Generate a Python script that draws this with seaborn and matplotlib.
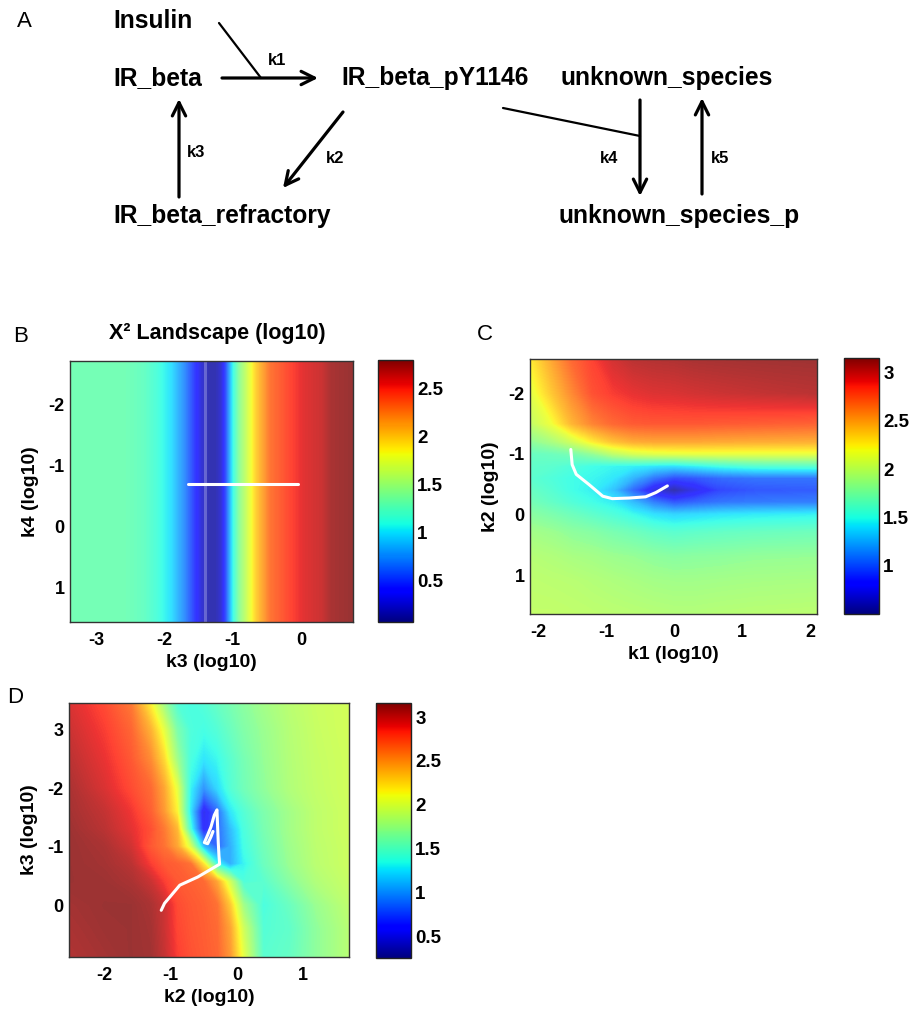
import numpy as np
import matplotlib
matplotlib.use("Agg")
import matplotlib.pyplot as plt
from matplotlib.colors import ListedColormap, Normalize
from matplotlib.cm import ScalarMappable
import seaborn as sns

# ---------------- data ----------------
# Panel B: chi2 depends only on k3
b_k3 = [-3.40, -2.60, -2.30, -2.10, -1.90, -1.70, -1.55, -1.45, -1.35, -1.25, -1.17,
        -1.10, -1.00, -0.90, -0.75, -0.66, -0.45, -0.21, 0.04, 0.30, 0.45, 0.76]
b_chi2 = [1.31, 1.31, 1.25, 1.15, 1.00, 0.72, 0.45, 0.25, 0.15, 0.15, 0.25,
          0.54, 1.08, 1.43, 1.76, 1.98, 2.31, 2.45, 2.58, 2.65, 2.75, 2.80]
b_k4_rows = [-2.72, 1.56]
b_traj_k3 = [-1.66, -0.05]
b_traj_k4 = [-0.70, -0.70]

# Panel C: rows = k2, columns = k1
c_k1 = [-2.12, -1.8, -1.5, -1.2, -0.9, -0.6, -0.3, 0.0, 0.3, 0.7, 1.2, 2.1]
c_k2 = [-2.56, -2.0, -1.5, -1.2, -1.0, -0.8, -0.6, -0.4, -0.2, 0.0, 0.3, 0.7, 1.1, 1.64]
c_chi2 = [
    [2.25, 2.50, 2.72, 2.85, 2.98, 3.05, 3.07, 3.08, 3.10, 3.11, 3.12, 3.13],
    [2.12, 2.38, 2.60, 2.80, 2.87, 2.92, 2.95, 2.96, 2.98, 3.00, 3.02, 3.05],
    [2.00, 2.18, 2.45, 2.62, 2.72, 2.77, 2.78, 2.78, 2.78, 2.77, 2.76, 2.74],
    [1.80, 1.90, 2.05, 2.25, 2.40, 2.48, 2.50, 2.50, 2.50, 2.49, 2.48, 2.47],
    [1.65, 1.67, 1.72, 1.82, 1.98, 2.08, 2.12, 2.14, 2.15, 2.15, 2.15, 2.15],
    [1.62, 1.60, 1.55, 1.50, 1.47, 1.45, 1.42, 1.40, 1.45, 1.52, 1.58, 1.60],
    [1.60, 1.55, 1.50, 1.47, 1.42, 1.25, 1.05, 0.92, 0.95, 1.02, 1.05, 1.05],
    [1.65, 1.58, 1.50, 1.45, 1.30, 1.00, 0.70, 0.55, 0.72, 0.90, 0.95, 0.97],
    [1.70, 1.63, 1.56, 1.50, 1.44, 1.28, 1.08, 0.95, 1.00, 1.05, 1.07, 1.08],
    [1.78, 1.73, 1.67, 1.61, 1.55, 1.48, 1.40, 1.36, 1.38, 1.41, 1.43, 1.45],
    [1.88, 1.85, 1.80, 1.77, 1.72, 1.68, 1.63, 1.60, 1.62, 1.64, 1.66, 1.68],
    [1.95, 1.93, 1.90, 1.88, 1.85, 1.83, 1.80, 1.78, 1.79, 1.80, 1.82, 1.83],
    [1.98, 1.97, 1.96, 1.94, 1.92, 1.90, 1.88, 1.87, 1.87, 1.88, 1.89, 1.90],
    [2.00, 2.00, 1.99, 1.98, 1.97, 1.96, 1.95, 1.94, 1.94, 1.95, 1.96, 1.97],
]
c_traj_k1 = [-1.52, -1.50, -1.44, -1.25, -1.05, -0.91, -0.66, -0.42, -0.27, -0.10]
c_traj_k2 = [-1.07, -0.82, -0.66, -0.49, -0.30, -0.26, -0.27, -0.29, -0.36, -0.47]

# Panel D: rows = k3, columns = k2
d_k2 = [-2.53, -2.0, -1.6, -1.3, -1.1, -0.9, -0.7, -0.5, -0.3, -0.1, 0.1, 0.4, 0.8, 1.2, 1.69]
d_k3 = [-3.46, -3.0, -2.5, -2.0, -1.6, -1.3, -1.0, -0.7, -0.4, 0.0, 0.4, 0.89]
d_chi2 = [
    [2.95, 2.80, 2.62, 2.15, 1.75, 1.42, 1.38, 1.42, 1.50, 1.58, 1.66, 1.76, 1.86, 1.93, 1.97],
    [3.00, 2.85, 2.70, 2.40, 2.05, 1.60, 1.40, 1.36, 1.42, 1.52, 1.62, 1.72, 1.84, 1.92, 1.97],
    [3.05, 2.90, 2.75, 2.55, 2.25, 1.75, 1.38, 1.25, 1.32, 1.45, 1.57, 1.70, 1.83, 1.91, 1.96],
    [3.10, 2.95, 2.80, 2.68, 2.45, 2.05, 1.30, 0.95, 1.20, 1.42, 1.55, 1.68, 1.82, 1.90, 1.96],
    [3.12, 3.02, 2.88, 2.72, 2.50, 2.15, 1.25, 0.50, 0.80, 1.25, 1.42, 1.60, 1.76, 1.88, 1.95],
    [3.14, 3.05, 2.92, 2.78, 2.62, 2.38, 1.40, 0.55, 0.80, 1.10, 1.38, 1.58, 1.76, 1.88, 1.95],
    [3.15, 3.10, 2.98, 2.75, 2.65, 2.45, 2.00, 1.10, 0.80, 1.05, 1.35, 1.55, 1.74, 1.87, 1.94],
    [3.15, 3.12, 3.05, 2.85, 2.75, 2.72, 2.65, 2.20, 1.35, 1.05, 1.30, 1.52, 1.72, 1.86, 1.94],
    [3.15, 3.14, 3.10, 3.00, 2.85, 2.75, 2.72, 2.68, 2.45, 1.95, 1.40, 1.45, 1.65, 1.82, 1.92],
    [3.12, 3.15, 3.15, 3.10, 3.00, 2.80, 2.75, 2.72, 2.65, 2.30, 1.75, 1.38, 1.52, 1.72, 1.88],
    [3.10, 3.14, 3.15, 3.12, 3.00, 2.82, 2.76, 2.73, 2.68, 2.45, 1.95, 1.42, 1.48, 1.68, 1.85],
    [3.08, 3.12, 3.15, 3.13, 3.02, 2.85, 2.78, 2.74, 2.70, 2.50, 2.05, 1.45, 1.50, 1.68, 1.85],
]
d_traj_k2 = [-1.14, -1.09, -0.86, -0.59, -0.26, -0.27, -0.28, -0.29, -0.30, -0.34,
             -0.39, -0.44, -0.49, -0.44, -0.39, -0.36]
d_traj_k3 = [0.09, -0.03, -0.34, -0.48, -0.70, -0.85, -1.06, -1.34, -1.63, -1.54,
             -1.34, -1.20, -1.07, -1.05, -1.17, -1.26]

b_xticks = [-3, -2, -1, 0]
b_yticks = [-2, -1, 0, 1]
b_cticks = [0.5, 1, 1.5, 2, 2.5]
c_xticks = [-2, -1, 0, 1, 2]
c_yticks = [-2, -1, 0, 1]
c_cticks = [1, 1.5, 2, 2.5, 3]
d_xticks = [-2, -1, 0, 1]
d_yticks = [-3, -2, -1, 0]
d_yticklabels = ["3", "-2", "-1", "0"]
d_cticks = [0.5, 1, 1.5, 2, 2.5, 3]

# ---------------- style ----------------
sns.set_style("white")
plt.rcParams["font.family"] = ["Liberation Sans", "DejaVu Sans"]
plt.rcParams["font.weight"] = "bold"
plt.rcParams["axes.labelweight"] = "bold"
plt.rcParams["axes.unicode_minus"] = False
for key in ["text.color", "axes.labelcolor", "xtick.color", "ytick.color"]:
    plt.rcParams[key] = "black"

W, H = 911, 1011
fig = plt.figure(figsize=(W / 100, H / 100), dpi=100)
fig.patch.set_facecolor("white")

jet = plt.get_cmap("jet")
faded = ListedColormap(jet(np.linspace(0, 1, 256))[:, :3] * 0.8 + 0.2)


def px_axes(l, t, r, b):
    return fig.add_axes([l / W, 1 - b / H, (r - l) / W, (b - t) / H])


def fmt(v):
    return ("%g" % v)


def heat(ax, cax, xs, ys, Z, vmin, vmax, xlim, ylim, xticks, yticks, cticks,
         xlabel, ylabel, yticklabels=None):
    levels = np.linspace(vmin, vmax, 256)
    ax.contourf(xs, ys, np.asarray(Z), levels=levels, cmap=faded,
                vmin=vmin, vmax=vmax, extend="both", antialiased=False)
    ax.set_xlim(*xlim)
    ax.set_ylim(ylim[1], ylim[0])
    ax.set_xticks(xticks)
    ax.set_xticklabels([fmt(v) for v in xticks])
    ax.set_yticks(yticks)
    ax.set_yticklabels(yticklabels if yticklabels else [fmt(v) for v in yticks])
    ax.tick_params(direction="in", length=4, width=0.8, top=True, right=True,
                   labelsize=13, color="#222222")
    ax.tick_params(axis="x", pad=7)
    ax.tick_params(axis="y", pad=4)
    for s in ax.spines.values():
        s.set_color("#333333")
        s.set_linewidth(1.0)
    ax.set_xlabel(xlabel, fontsize=14, labelpad=4)
    ax.set_ylabel(ylabel, fontsize=14, labelpad=7)
    sm = ScalarMappable(norm=Normalize(vmin, vmax), cmap=jet)
    cb = fig.colorbar(sm, cax=cax)
    cb.set_ticks(cticks)
    cb.set_ticklabels([fmt(v) for v in cticks])
    cax.tick_params(direction="in", length=4, width=0.8, left=True, right=True,
                    labelsize=13.5, pad=3, color="#222222")
    cb.outline.set_linewidth(1.0)
    cb.outline.set_edgecolor("#222222")


def traj(ax, xs, ys):
    sns.lineplot(x=xs, y=ys, sort=False, estimator=None, color="white",
                 linewidth=2.2, ax=ax, legend=False)


# ---------------- Panel A (schematic) ----------------
axA = px_axes(0, 0, W, 260)
axA.set_xlim(0, W)
axA.set_ylim(260, 0)
axA.axis("off")

axA.text(17, 27, "A", fontsize=16, fontweight="normal", va="baseline")
species = [("Insulin", 113, 28), ("IR_beta", 113, 85), ("IR_beta_pY1146", 341, 85),
           ("unknown_species", 561, 85), ("IR_beta_refractory", 113, 223),
           ("unknown_species_p", 558, 223)]
for name, x, y in species:
    axA.text(x, y, name, fontsize=17.7, fontweight="bold", va="baseline")
rates = [("k1", 268, 65), ("k3", 187, 157), ("k2", 326, 163), ("k4", 600, 163), ("k5", 711, 163)]
for name, x, y in rates:
    axA.text(x, y, name, fontsize=12, fontweight="bold", va="baseline")

arrow_style = dict(arrowstyle="->,head_length=0.6,head_width=0.3", lw=2.3,
                   color="black", shrinkA=0, shrinkB=0, mutation_scale=16)
for tail, head in [((222, 78), (318, 78)), ((179, 197), (179, 99)),
                   ((343, 112), (283, 188)), ((640, 100), (640, 196)),
                   ((702, 194), (702, 98))]:
    axA.annotate("", xy=head, xytext=tail, arrowprops=arrow_style)
axA.plot([219, 261], [23, 78], color="black", lw=1.6)
axA.plot([503, 640], [108, 136], color="black", lw=1.6)

# ---------------- Panel B ----------------
axB = px_axes(70, 361, 353, 622)
caxB = px_axes(378, 360, 413, 622)
heat(axB, caxB, b_k3, b_k4_rows, [b_chi2, b_chi2], 0.07, 2.80,
     (-3.38, 0.76), (-2.72, 1.56), b_xticks, b_yticks, b_cticks,
     "k3 (log10)", "k4 (log10)")
axB.axvline(-1.41, color="white", alpha=0.25, lw=2.2)
traj(axB, b_traj_k3, b_traj_k4)
fig.text(13 / W, 1 - 342 / H, "B", fontsize=16, fontweight="normal", va="baseline")
fig.text(217 / W, 1 - 339 / H, "X\u00b2 Landscape (log10)", fontsize=15.5,
         fontweight="bold", ha="center", va="baseline")

# ---------------- Panel C ----------------
axC = px_axes(530, 359, 817, 614)
caxC = px_axes(844, 358, 879, 614)
heat(axC, caxC, c_k1, c_k2, c_chi2, 0.50, 3.15,
     (-2.12, 2.10), (-2.56, 1.64), c_xticks, c_yticks, c_cticks,
     "k1 (log10)", "k2 (log10)")
traj(axC, c_traj_k1, c_traj_k2)
fig.text(477 / W, 1 - 340 / H, "C", fontsize=16, fontweight="normal", va="baseline")

# ---------------- Panel D ----------------
axD = px_axes(69, 703, 349, 957)
caxD = px_axes(376, 703, 411, 958)
heat(axD, caxD, d_k2, d_k3, d_chi2, 0.25, 3.16,
     (-2.53, 1.69), (-3.46, 0.89), d_xticks, d_yticks, d_cticks,
     "k2 (log10)", "k3 (log10)", yticklabels=d_yticklabels)
traj(axD, d_traj_k2, d_traj_k3)
fig.text(7 / W, 1 - 703 / H, "D", fontsize=16, fontweight="normal", va="baseline")

fig.savefig("out.png", dpi=100, facecolor="white")
